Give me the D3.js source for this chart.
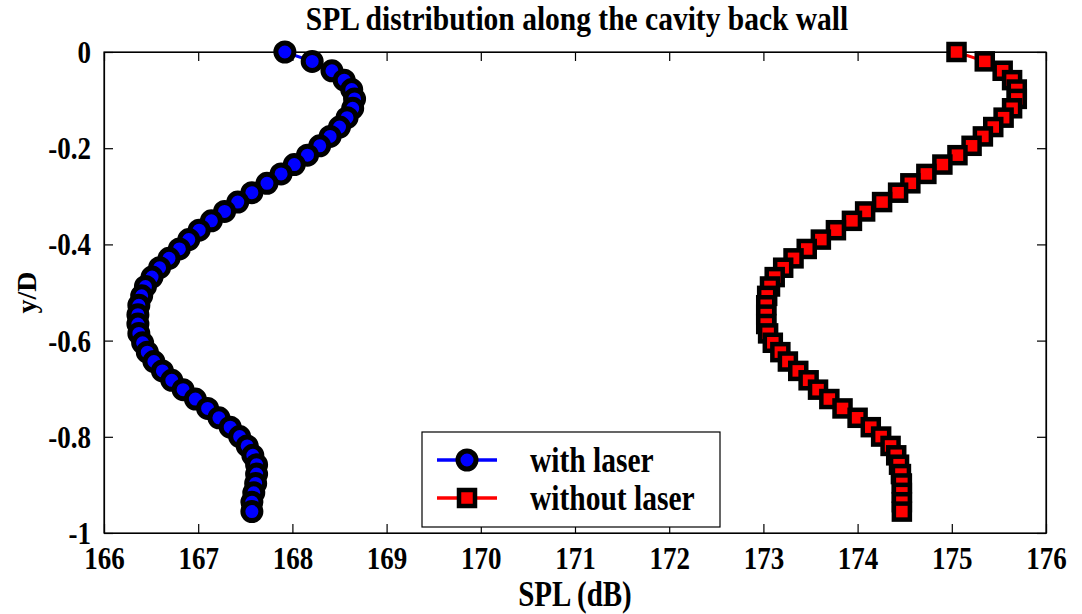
<!DOCTYPE html>
<html>
<head>
<meta charset="utf-8">
<script src="https://cdn.jsdelivr.net/npm/d3@7"></script>
<style>
  html, body { margin: 0; padding: 0; background: #fff; }
  svg text { font-family: "Liberation Serif", "Times New Roman", serif; font-weight: bold; fill: #000; }
  svg text.tall { transform-box: fill-box; transform-origin: center; transform: scaleY(1.2); }
  svg text.title { transform-box: fill-box; transform-origin: center; transform: scaleY(1.13); }
</style>
</head>
<body>
<svg id="chart" width="1082" height="614"></svg>
<script>
// Normalised position along the back wall (y/D), shared by both series
const yPos = [0, -0.0195, -0.039, -0.0585, -0.078, -0.0975, -0.117, -0.1365, -0.156, -0.1755,
  -0.195, -0.2145, -0.234, -0.2535, -0.273, -0.2925, -0.312, -0.3315, -0.351, -0.3705,
  -0.39, -0.4095, -0.429, -0.4485, -0.468, -0.4875, -0.507, -0.5265, -0.546, -0.5655,
  -0.585, -0.6045, -0.624, -0.6435, -0.663, -0.6825, -0.702, -0.7215, -0.741, -0.7605,
  -0.78, -0.7995, -0.819, -0.8385, -0.858, -0.8775, -0.897, -0.9165, -0.936, -0.9555];

// SPL (dB) with laser
const splWithLaser = [167.92, 168.21, 168.42, 168.55, 168.63, 168.66, 168.64, 168.58, 168.50, 168.40,
  168.29, 168.16, 168.02, 167.88, 167.73, 167.57, 167.42, 167.28, 167.14, 167.01,
  166.90, 166.80, 166.69, 166.59, 166.51, 166.44, 166.40, 166.37, 166.36, 166.36,
  166.37, 166.41, 166.46, 166.53, 166.62, 166.72, 166.84, 166.97, 167.10, 167.22,
  167.34, 167.44, 167.52, 167.58, 167.62, 167.62, 167.61, 167.59, 167.57, 167.57];

// SPL (dB) without laser
const splWithoutLaser = [175.05, 175.35, 175.54, 175.64, 175.69, 175.69, 175.64, 175.55, 175.44, 175.33,
  175.21, 175.06, 174.90, 174.73, 174.56, 174.43, 174.26, 174.08, 173.94, 173.77,
  173.61, 173.46, 173.32, 173.21, 173.12, 173.07, 173.04, 173.03, 173.03, 173.03,
  173.05, 173.10, 173.18, 173.26, 173.37, 173.48, 173.58, 173.70, 173.84, 174.00,
  174.14, 174.25, 174.35, 174.41, 174.44, 174.46, 174.47, 174.47, 174.47, 174.47];

const xTicks = [166, 167, 168, 169, 170, 171, 172, 173, 174, 175, 176];
const yTicks = [0, -0.2, -0.4, -0.6, -0.8, -1];
const yTickLabels = ["0", "-0.2", "-0.4", "-0.6", "-0.8", "-1"];
const seriesNames = ["with laser", "without laser"];

const svg = d3.select("#chart");
const plot = { left: 104, right: 1046, top: 52, bottom: 533 };

const x = d3.scaleLinear().domain([166, 176]).range([plot.left, plot.right]);
const y = d3.scaleLinear().domain([-1, 0]).range([plot.bottom, plot.top]);

// Frame with inward ticks on all four sides
const tickLen = 9;
svg.append("g").attr("transform", `translate(0,${plot.bottom})`)
  .call(d3.axisBottom(x).tickValues(xTicks).tickFormat(d3.format("d")).tickSizeInner(-tickLen).tickSizeOuter(0).tickPadding(15))
  .call(g => g.selectAll("text").attr("font-size", 27).attr("class", "tall"));
svg.append("g").attr("transform", `translate(0,${plot.top})`)
  .call(d3.axisTop(x).tickValues(xTicks).tickFormat("").tickSizeInner(-tickLen).tickSizeOuter(0));
svg.append("g").attr("transform", `translate(${plot.left},0)`)
  .call(d3.axisLeft(y).tickValues(yTicks).tickFormat((d, i) => yTickLabels[i]).tickSizeInner(-tickLen).tickSizeOuter(0).tickPadding(13))
  .call(g => g.selectAll("text").attr("font-size", 27).attr("class", "tall"));
svg.append("g").attr("transform", `translate(${plot.right},0)`)
  .call(d3.axisRight(y).tickValues(yTicks).tickFormat("").tickSizeInner(-tickLen).tickSizeOuter(0));

svg.selectAll(".domain").attr("stroke", "#000").attr("stroke-width", 1.2);
svg.selectAll(".tick line").attr("stroke", "#000").attr("stroke-width", 1.2);
svg.selectAll(".tick text").attr("font-family", "Liberation Serif").attr("font-weight", "bold").attr("fill", "#000");

svg.append("rect")
  .attr("x", plot.left).attr("y", plot.top)
  .attr("width", plot.right - plot.left).attr("height", plot.bottom - plot.top)
  .attr("fill", "none").attr("stroke", "#000").attr("stroke-width", 1.2);

// Series: thick black marker edges over the connecting line
const line = d3.line().x(d => x(d[0])).y(d => y(d[1]));
const blueData = splWithLaser.map((v, i) => [v, yPos[i]]);
const redData = splWithoutLaser.map((v, i) => [v, yPos[i]]);

const circleR = 9, circleEdge = 5, squareS = 16, squareEdge = 4.5;

svg.append("path").datum(blueData).attr("d", line)
  .attr("fill", "none").attr("stroke", "#0000ff").attr("stroke-width", 3);
svg.append("g").selectAll("circle").data(blueData).join("circle")
  .attr("cx", d => x(d[0])).attr("cy", d => y(d[1])).attr("r", circleR)
  .attr("fill", "#0000ff").attr("stroke", "#000").attr("stroke-width", circleEdge);

svg.append("path").datum(redData).attr("d", line)
  .attr("fill", "none").attr("stroke", "#ff0000").attr("stroke-width", 3);
svg.append("g").selectAll("rect").data(redData).join("rect")
  .attr("x", d => x(d[0]) - squareS / 2).attr("y", d => y(d[1]) - squareS / 2)
  .attr("width", squareS).attr("height", squareS)
  .attr("fill", "#ff0000").attr("stroke", "#000").attr("stroke-width", squareEdge);

// Legend
const lg = svg.append("g");
lg.append("rect").attr("x", 422).attr("y", 432).attr("width", 298).attr("height", 95)
  .attr("fill", "#fff").attr("stroke", "#000").attr("stroke-width", 1.2);
const rows = [
  { name: seriesNames[0], color: "#0000ff", shape: "circle", cy: 460 },
  { name: seriesNames[1], color: "#ff0000", shape: "square", cy: 498 }
];
rows.forEach(r => {
  lg.append("line").attr("x1", 437).attr("x2", 497).attr("y1", r.cy).attr("y2", r.cy)
    .attr("stroke", r.color).attr("stroke-width", 3.5);
  if (r.shape === "circle") {
    lg.append("circle").attr("cx", 467).attr("cy", r.cy).attr("r", circleR)
      .attr("fill", r.color).attr("stroke", "#000").attr("stroke-width", circleEdge);
  } else {
    lg.append("rect").attr("x", 467 - squareS / 2).attr("y", r.cy - squareS / 2)
      .attr("width", squareS).attr("height", squareS)
      .attr("fill", r.color).attr("stroke", "#000").attr("stroke-width", squareEdge);
  }
  lg.append("text").attr("class", "tall").attr("x", 530).attr("y", r.cy).attr("dy", "0.35em")
    .attr("font-size", 29.5).text(r.name);
});

// Title and axis labels
svg.append("text").attr("class", "title").attr("x", 577).attr("y", 29)
  .attr("text-anchor", "middle").attr("font-size", 29.5)
  .text("SPL distribution along the cavity back wall");
svg.append("text").attr("class", "tall").attr("x", (plot.left + plot.right) / 2).attr("y", 604)
  .attr("text-anchor", "middle").attr("font-size", 29).text("SPL (dB)");
svg.append("text").attr("transform", `translate(36,${(plot.top + plot.bottom) / 2}) rotate(-90)`)
  .attr("text-anchor", "middle").attr("font-size", 28).text("y/D");
</script>
</body>
</html>
